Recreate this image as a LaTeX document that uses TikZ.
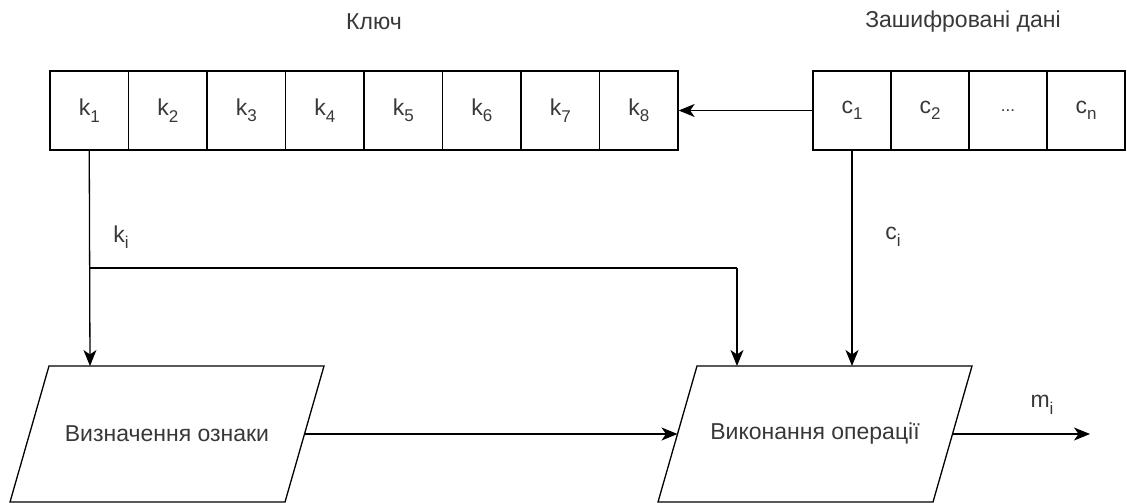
\documentclass[tikz,border=0pt]{standalone}
\usepackage{fontspec}
\setmainfont{Liberation Sans}
\usetikzlibrary{arrows.meta}
\newcommand\mysubscr[1]{\raisebox{-0.28em}{\fontsize{17}{17}\selectfont #1}}
\begin{document}
\begin{tikzpicture}[x=1pt,y=-1pt,
  every node/.style={font=\fontsize{23}{27}\selectfont, text=black!78},
  cell/.style={draw=black, line width=1.3pt, minimum width=78.5pt, minimum height=79pt, inner sep=0pt, anchor=center},
  shapeline/.style={draw=black, line width=1.3pt, line join=miter},
  conn/.style={draw=black, line width=1.3pt, -{Stealth[length=16pt,width=13pt,inset=4.5pt]}},
  plain/.style={draw=black, line width=1.3pt}
]
\useasboundingbox (0,0) rectangle (1127,503);

% titles
\node (tkey) at (374,22) {Ключ};
\node (tdata) at (963,22) {Зашифровані дані};

% key cells
\foreach \i in {1,...,8} {
  \node[cell] (k\i) at ({50+39.25+78.5*(\i-1)},110.5) {k\mysubscr{\i}};
}
% cipher cells
\node[cell, minimum width=78pt] (c1) at (852,110.5) {c\mysubscr{1}};
\node[cell, minimum width=78pt] (c2) at (930,110.5) {c\mysubscr{2}};
\node[cell, minimum width=78pt] (c3) at (1008,110.5) {\fontsize{17}{17}\selectfont ...};
\node[cell, minimum width=78pt] (c4) at (1086,110.5) {c\mysubscr{n}};

% parallelograms
\draw[shapeline] (49,366) -- (324,366) -- (285,502) -- (10,502) -- cycle;
\node (p1) at (167,434) {Визначення ознаки};
\coordinate (p1top) at (90,366);
\coordinate (p1right) at (304.5,434);

\draw[shapeline] (697,366) -- (972,366) -- (933,502) -- (658,502) -- cycle;
\node (p2) at (815,434) {Виконання операції};
\coordinate (p2topA) at (737,366);
\coordinate (p2topB) at (852,366);
\coordinate (p2left) at (677.5,434);
\coordinate (p2right) at (952.5,434);
\coordinate (outend) at (1090,434);
\coordinate (kbranch) at (90,268);
\coordinate (kcorner) at (737,268);

% connectors
\draw[conn] (c1.west) -- (k8.east);
\draw[conn] (k1.south) -- (p1top);
\draw[plain] (kbranch) -- (kcorner);
\draw[conn] (kcorner) -- (p2topA);
\draw[conn] (c1.south) -- (p2topB);
\draw[conn] (p1right) -- (p2left);
\draw[conn] (p2right) -- (outend);

% labels
\node (lk) at (121,237) {k\mysubscr{i}};
\node (lc) at (893,237) {c\mysubscr{i}};
\node (lm) at (1042,405) {m\mysubscr{i}};
\end{tikzpicture}
\end{document}
